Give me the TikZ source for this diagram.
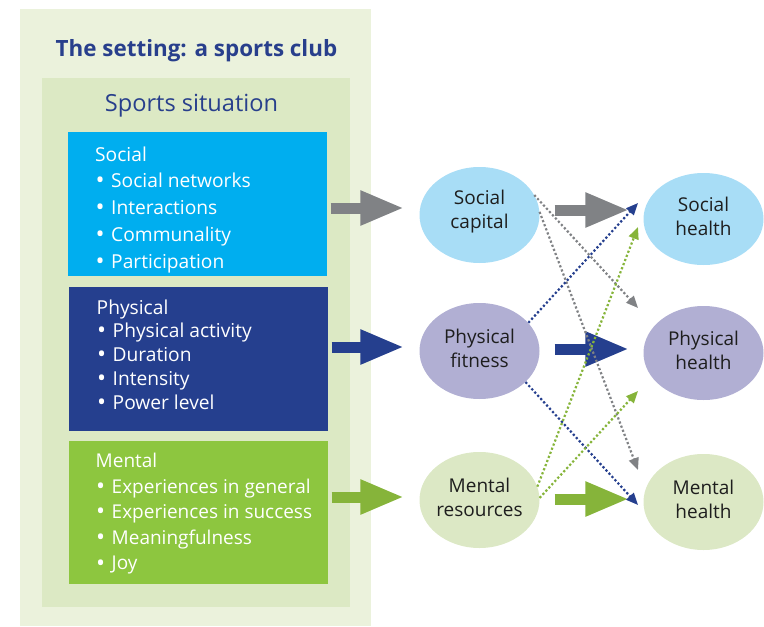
\documentclass[tikz,border=0pt]{standalone}
\usepackage{fontspec}
\setmainfont{Open Sans}
\usetikzlibrary{arrows.meta,shapes.geometric}
\definecolor{bgouter}{HTML}{EBF2DC}
\definecolor{bginner}{HTML}{DCE9C4}
\definecolor{socbox}{HTML}{00AEEF}
\definecolor{physbox}{HTML}{253F8E}
\definecolor{mentbox}{HTML}{8DC63F}
\definecolor{socell}{HTML}{A8DDF6}
\definecolor{physell}{HTML}{B1AFD3}
\definecolor{mentell}{HTML}{DCE8C5}
\definecolor{grayarr}{HTML}{808285}
\definecolor{bluearr}{HTML}{253F8E}
\definecolor{greenarr}{HTML}{86B43A}
\definecolor{titleblue}{HTML}{283F8C}
\definecolor{elltext}{HTML}{1E1E1E}
\newcommand\bul{\makebox[16pt][l]{\hspace{0.5pt}\smash{\raisebox{-1.1pt}{\fontsize{24}{24}\selectfont•}}}}
\begin{document}
\begin{tikzpicture}[x=1pt,y=-1pt,
  panel/.style={draw=none, inner sep=0, outer sep=0},
  boxtext/.style={anchor=base west, inner sep=0, align=left, text=white},
  ell/.style={ellipse, minimum width=120pt, minimum height=96pt, inner sep=0,
    align=center, text=elltext, font=\fontsize{19}{24}\selectfont},
  bigarrow/.style={line width=11pt, -{Triangle[length=44pt,width=32pt]}},
  dotarrow/.style={line width=2.2pt, dash pattern=on 2.2pt off 2.2pt,
    -{Triangle[length=12pt,width=10pt]}}
]
\useasboundingbox (0,0) rectangle (764,627);
% background panels
\node[panel, fill=bgouter, minimum width=351pt, minimum height=617pt] (outer) at (195.5,317.5) {};
\node[panel, fill=bginner, minimum width=308pt, minimum height=529pt] (inner) at (196,342.5) {};
\node[anchor=base, inner sep=0, text=titleblue, font=\fontsize{22.4}{26}\selectfont\bfseries] (title) at (196.5,56.5) {The setting: a sports club};
\node[anchor=base, inner sep=0, text=titleblue, font=\fontsize{23.6}{27}\selectfont] (situation) at (191.5,111) {Sports situation};
% category boxes
\node[panel, fill=socbox, minimum width=259pt, minimum height=144pt] (sbox) at (197,204) {};
\node[panel, fill=physbox, minimum width=259pt, minimum height=144pt] (pbox) at (198,359) {};
\node[panel, fill=mentbox, minimum width=259pt, minimum height=143pt] (mbox) at (198,512.5) {};
\node[boxtext, font=\fontsize{19.2}{26.8}\selectfont] (stext) at (95,268.2) {Social\\\bul Social networks\\\bul Interactions\\\bul Communality\\\bul Participation};
\node[boxtext, font=\fontsize{19.2}{23.8}\selectfont] (ptext) at (96.5,409.2) {Physical\\\bul Physical activity\\\bul Duration\\\bul Intensity\\\bul Power level};
\node[boxtext, font=\fontsize{19}{25.6}\selectfont] (mtext) at (95.5,569.9) {Mental\\\bul Experiences in general\\\bul Experiences in success\\\bul Meaningfulness\\\bul Joy};
% ellipses
\node[ell, fill=socell] (scap) at (479.5,215) {};
\node[ell, fill=physell] (pfit) at (479.5,351) {};
\node[ell, fill=mentell] (mres) at (479.5,500) {};
\node[ell, fill=socell, minimum height=92pt] (shea) at (703.5,219) {};
\node[ell, fill=physell, minimum height=94pt] (phea) at (703.5,353) {};
\node[ell, fill=mentell] (mhea) at (703.5,502) {};
\node[ell, fill=none, yshift=3pt] (scapt) at (scap) {Social\\capital};
\node[ell, fill=none, yshift=3pt] (pfitt) at (pfit) {Physical\\fitness};
\node[ell, fill=none, yshift=3pt] (mrest) at (mres) {Mental\\resources};
\node[ell, fill=none, yshift=3pt] (sheat) at (shea) {Social\\health};
\node[ell, fill=none, yshift=3pt] (pheat) at (phea) {Physical\\health};
\node[ell, fill=none, yshift=3pt] (mheat) at (mhea) {Mental\\health};
% big arrows
\draw[bigarrow, grayarr, shorten <=4pt, shorten >=15pt] ([yshift=7pt]sbox.east |- scap.west) -- ([yshift=7pt]scap.west);
\draw[bigarrow, bluearr, shorten <=4pt, shorten >=15pt] ([yshift=4pt]pbox.east |- pfit.west) -- ([yshift=4pt]pfit.west);
\draw[bigarrow, greenarr, shorten <=4pt, shorten >=15pt] ([yshift=3pt]mbox.east |- mres.west) -- ([yshift=3pt]mres.west);
\draw[bigarrow, grayarr, shorten <=15pt, shorten >=14pt] ([yshift=5pt]scap.east) -- ([yshift=5pt]shea.west |- scap.east);
\draw[bigarrow, bluearr, shorten <=15pt, shorten >=14pt] ([yshift=2pt]pfit.east) -- ([yshift=2pt]phea.west |- pfit.east);
\draw[bigarrow, greenarr, shorten <=15pt, shorten >=14pt] ([yshift=1pt]mres.east) -- ([yshift=1pt]mhea.west |- mres.east);
% dotted arrow ends
\coordinate (e1) at (638,308);
\coordinate (e2) at (638,470);
\coordinate (e3) at (638,203);
\coordinate (e4) at (638,505);
\coordinate (e5) at (638,227);
\coordinate (e6) at (638,391);
\draw[dotarrow, grayarr] (scap.20) -- (e1);
\draw[dotarrow, grayarr] (scap.3) -- (e2);
\draw[dotarrow, bluearr] (pfit.30) -- (e3);
\draw[dotarrow, bluearr] (pfit.-34) -- (e4);
\draw[dotarrow, greenarr] (mres.13) -- (e5);
\draw[dotarrow, greenarr] (mres.2) -- (e6);
\end{tikzpicture}
\end{document}
